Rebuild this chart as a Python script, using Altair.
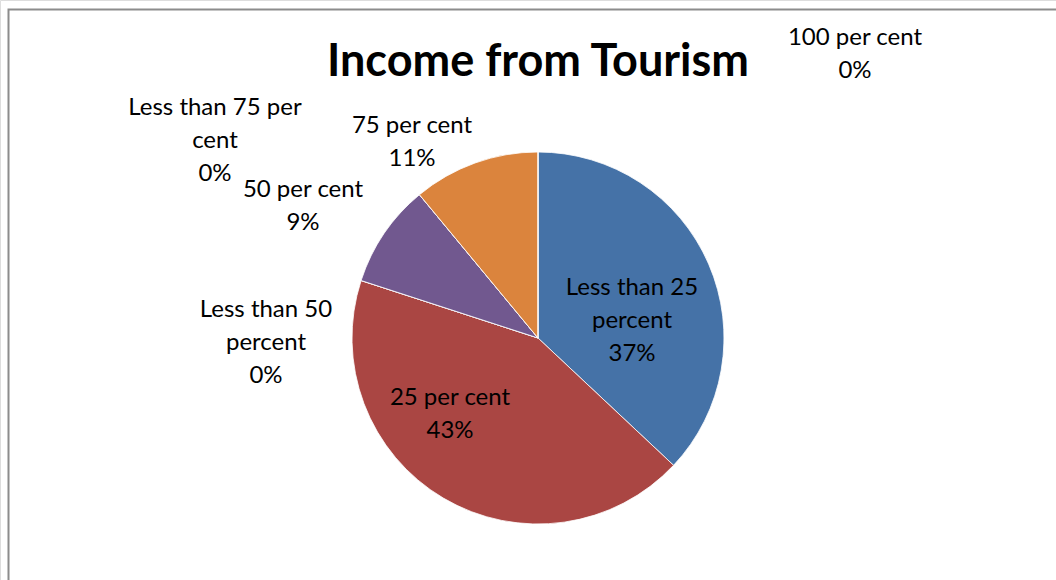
import altair as alt
import pandas as pd

# ---- data ----
categories = ["Less than 25 percent", "25 per cent", "Less than 50 percent",
              "50 per cent", "Less than 75 per cent", "75 per cent", "100 per cent"]
shares = [37, 43, 0, 9, 0, 11, 0]
label_texts = [["Less than 25", "percent", "37%"],
               ["25 per cent", "43%"],
               ["Less than 50", "percent", "0%"],
               ["50 per cent", "9%"],
               ["Less than 75 per", "cent", "0%"],
               ["75 per cent", "11%"],
               ["100 per cent", "0%"]]
title_text = "Income from Tourism"

# ---- styling / layout ----
colors = ["#4572A7", "#AA4643", "#89A54E", "#71588F", "#4198AF", "#DB843D", "#93A9CF"]
label_x = [632, 450, 266, 303, 215, 412, 855]
label_y = [288, 398, 310, 190, 108, 126, 38]   # first-line centres
FONT = "Lato"
W, H = 1056, 580
CX, CY, R = 538, 338, 186

pie_df = pd.DataFrame({"category": categories, "share": shares,
                       "idx": list(range(len(categories)))})
lab_df = pd.DataFrame({"text": label_texts, "lx": label_x, "ly": label_y})

frame = alt.Chart(pd.DataFrame({"a": [0]})).mark_rect(
    fill=None, stroke="#8c8c8c", strokeWidth=2
).encode(x=alt.value(8.5), y=alt.value(9.5), x2=alt.value(W + 20), y2=alt.value(H + 20))

pie = alt.Chart(pie_df).mark_arc(outerRadius=R, stroke="white", strokeWidth=0.8).encode(
    theta=alt.Theta("share:Q", stack=True, scale=alt.Scale(range=[0, 6.283185307])),
    color=alt.Color("category:N", scale=alt.Scale(domain=categories, range=colors), legend=None),
    order=alt.Order("idx:Q"),
    x=alt.value(CX), y=alt.value(CY),
)

labels = alt.Chart(lab_df).mark_text(
    font=FONT, fontSize=24, lineHeight=33, align="center", baseline="middle", color="black"
).encode(
    x=alt.X("lx:Q", scale=None), y=alt.Y("ly:Q", scale=None), text="text"
)

title = alt.Chart(pd.DataFrame({"t": [title_text]})).mark_text(
    font=FONT, fontSize=45, fontWeight="bold", align="center", baseline="middle", color="black"
).encode(x=alt.value(CX), y=alt.value(62), text="t:N")

chart = alt.layer(frame, pie, labels, title).properties(
    width=W, height=H, autosize=alt.AutoSizeParams(type="none"), padding=0
).configure_view(strokeWidth=0).configure(background="white")

chart.save("out.html", embed_options={"renderer": "svg", "actions": False})
